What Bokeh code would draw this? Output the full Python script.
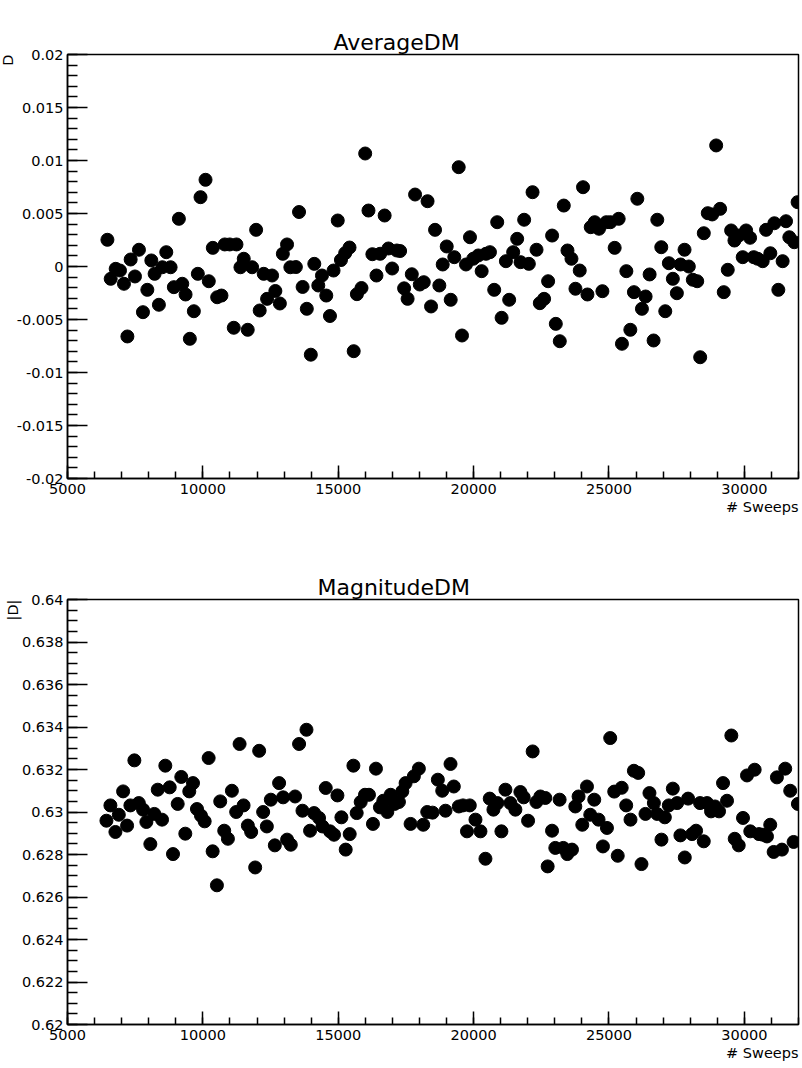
import math
from bokeh.plotting import figure
from bokeh.layouts import column
from bokeh.models import (SingleIntervalTicker, CustomJSTickFormatter, Title, Range1d,
                          LinearAxis, FixedTicker)
from bokeh.embed import file_html
from bokeh.resources import INLINE

# ---------------- data ----------------
avg_sweeps = [
    6474, 6596, 6780, 6939, 7086, 7212, 7333, 7492, 7639, 7787,
    7949, 8096, 8218, 8376, 8502, 8649, 8808, 8929, 9114, 9239,
    9361, 9519, 9667, 9814, 9913, 10098, 10219, 10367, 10529, 10687,
    10809, 10993, 11141, 11241, 11388, 11510, 11657, 11819, 11967, 12099,
    12247, 12372, 12556, 12678, 12844, 12954, 13109, 13231, 13434, 13552,
    13684, 13839, 13987, 14116, 14263, 14399, 14558, 14694, 14827, 14982,
    15100, 15258, 15417, 15571, 15689, 15859, 15995, 16117, 16261, 16412,
    16548, 16714, 16854, 16991, 17164, 17285, 17433, 17562, 17717, 17838,
    18012, 18159, 18299, 18428, 18576, 18734, 18859, 19007, 19154, 19287,
    19449, 19571, 19718, 19866, 19987, 20172, 20297, 20455, 20603, 20761,
    20872, 21034, 21193, 21314, 21462, 21609, 21734, 21867, 22040, 22177,
    22324, 22446, 22604, 22752, 22899, 23036, 23183, 23331, 23467, 23614,
    23762, 23920, 24042, 24204, 24326, 24473, 24632, 24757, 24904, 25052,
    25210, 25358, 25479, 25642, 25789, 25922, 26047, 26217, 26353, 26501,
    26648, 26784, 26932, 27079, 27212, 27359, 27507, 27643, 27791, 27949,
    28096, 28259, 28369, 28502, 28649, 28812, 28959, 29106, 29239, 29387,
    29512, 29634, 29792, 29939, 30065, 30212, 30345, 30492, 30677, 30802,
    30960, 31108, 31255, 31414, 31539, 31661, 31845, 31967,
]
avg_d = [
    0.00252, -0.00116, -0.00022, -0.00038, -0.00163, -0.0066, 0.00066, -0.00094, 0.00158, -0.00431,
    -0.0022, 0.00057, -0.00069, -0.00361, -0.00007, 0.00135, -0.00007, -0.00195, 0.0045, -0.00163,
    -0.00264, -0.00682, -0.00422, -0.00069, 0.00654, 0.00818, -0.00139, 0.00176, -0.0029, -0.00274,
    0.00208, 0.00208, -0.00578, 0.00208, -0.00007, 0.00073, -0.00597, -0.00007, 0.00346, -0.00415,
    -0.00069, -0.00305, -0.00085, -0.00231, -0.00349, 0.0012, 0.00208, -0.00007, -0.00005, 0.00514,
    -0.00193, -0.00399, -0.00832, 0.00025, -0.00179, -0.00085, -0.00274, -0.00467, -0.00038, 0.00434,
    0.00061, 0.00127, 0.00179, -0.00799, -0.00261, -0.00203, 0.01066, 0.00528, 0.00116, -0.00085,
    0.0012, 0.00481, 0.0017, -0.00019, 0.00151, 0.00146, -0.00206, -0.00305, -0.00073, 0.00679,
    -0.0017, -0.00148, 0.00616, -0.00377, 0.00346, -0.00179, 0.00019, 0.00189, -0.00314, 0.00088,
    0.00937, -0.00651, 0.00019, 0.00276, 0.00073, 0.00104, -0.00044, 0.0012, 0.00135, -0.0022,
    0.00418, -0.00484, 0.0005, -0.00314, 0.00135, 0.00261, 0.00041, 0.00441, 0.00025, 0.00701,
    0.00158, -0.00346, -0.00305, -0.00139, 0.00292, -0.00541, -0.00705, 0.00575, 0.00151, 0.00073,
    -0.0021, -0.00038, 0.00748, -0.00264, 0.00371, 0.00418, 0.00356, -0.00233, 0.00418, 0.00418,
    0.00176, 0.0045, -0.00729, -0.00044, -0.00597, -0.00242, 0.00639, -0.00399, -0.00283, -0.00075,
    -0.00698, 0.00441, 0.00182, -0.00422, 0.00031, -0.00116, -0.00252, 0.00019, 0.00158, 0.0,
    -0.00125, -0.00139, -0.00856, 0.00314, 0.00503, 0.00491, 0.01142, 0.00544, -0.00242, -0.00031,
    0.0034, 0.00245, 0.00292, 0.00088, 0.0034, 0.00271, 0.00088, 0.00073, 0.0005, 0.00346,
    0.00125, 0.00408, -0.0022, 0.0005, 0.00427, 0.00276, 0.00229, 0.00607,
]

mag_sweeps = [
    6438, 6585, 6770, 6895, 7054, 7201, 7323, 7470, 7633, 7791,
    7913, 8060, 8208, 8333, 8492, 8613, 8776, 8897, 9070, 9203,
    9351, 9498, 9635, 9782, 9930, 10066, 10213, 10361, 10519, 10641,
    10789, 10925, 11072, 11231, 11356, 11504, 11662, 11784, 11932, 12079,
    12227, 12363, 12510, 12658, 12816, 12964, 13111, 13248, 13406, 13554,
    13679, 13827, 13959, 14107, 14291, 14417, 14538, 14697, 14844, 14970,
    15117, 15276, 15423, 15560, 15681, 15829, 15987, 16135, 16282, 16393,
    16540, 16666, 16813, 16935, 17082, 17241, 17366, 17488, 17672, 17794,
    17978, 18140, 18288, 18483, 18679, 18841, 18962, 19147, 19269, 19453,
    19608, 19755, 19859, 20069, 20253, 20437, 20596, 20732, 20880, 21027,
    21175, 21359, 21543, 21728, 21850, 22012, 22181, 22318, 22466, 22650,
    22735, 22897, 23018, 23177, 23313, 23461, 23634, 23756, 23877, 24014,
    24187, 24309, 24456, 24615, 24777, 24925, 25046, 25194, 25323, 25470,
    25636, 25795, 25920, 26079, 26200, 26348, 26495, 26658, 26779, 26938,
    27063, 27210, 27358, 27517, 27638, 27800, 27922, 28069, 28217, 28364,
    28501, 28623, 28770, 28918, 29065, 29213, 29360, 29519, 29644, 29792,
    29950, 30098, 30219, 30381, 30540, 30687, 30835, 30956, 31082, 31203,
    31388, 31510, 31694, 31819, 31978,
]
mag_d = [
    0.62959, 0.63031, 0.62906, 0.62987, 0.63097, 0.62936, 0.63031, 0.63243, 0.63042, 0.63011,
    0.62953, 0.62849, 0.62991, 0.63105, 0.62964, 0.63218, 0.63116, 0.62802, 0.63038, 0.63165,
    0.62898, 0.63097, 0.63136, 0.63014, 0.62983, 0.62956, 0.63254, 0.62815, 0.62655, 0.6305,
    0.62912, 0.62874, 0.631, 0.63, 0.6332, 0.63031, 0.62936, 0.62906, 0.62739, 0.63288,
    0.63, 0.62932, 0.63058, 0.62843, 0.63136, 0.63069, 0.6287, 0.62846, 0.63073, 0.6332,
    0.63006, 0.63387, 0.62912, 0.62995, 0.62972, 0.62932, 0.63113, 0.62909, 0.62893, 0.63078,
    0.62975, 0.62823, 0.62896, 0.63218, 0.62995, 0.63047, 0.63081, 0.63081, 0.62944, 0.63204,
    0.63022, 0.63053, 0.63, 0.63081, 0.63038, 0.63047, 0.63097, 0.63136, 0.62944, 0.63168,
    0.63204, 0.6294, 0.63, 0.62997, 0.63152, 0.631, 0.63006, 0.63226, 0.6312, 0.63026,
    0.63031, 0.62909, 0.63031, 0.62964, 0.62909, 0.6278, 0.63063, 0.63011, 0.63042, 0.62909,
    0.63105, 0.63042, 0.63011, 0.63094, 0.63069, 0.62959, 0.63285, 0.63047, 0.63073, 0.63066,
    0.62744, 0.62912, 0.62831, 0.63058, 0.62831, 0.62802, 0.62823, 0.63026, 0.63073, 0.6294,
    0.6312, 0.62987, 0.63058, 0.62964, 0.62838, 0.62925, 0.63348, 0.63096, 0.62794, 0.63114,
    0.63031, 0.62964, 0.63194, 0.63184, 0.62755, 0.62991, 0.63089, 0.63042, 0.62991, 0.6287,
    0.62975, 0.63031, 0.6311, 0.63042, 0.6289, 0.62786, 0.63063, 0.62896, 0.62912, 0.63042,
    0.62862, 0.63042, 0.63003, 0.63026, 0.63003, 0.63136, 0.63053, 0.6336, 0.62874, 0.62843,
    0.62972, 0.63172, 0.62909, 0.63199, 0.62896, 0.62893, 0.62885, 0.6294, 0.62812, 0.63163,
    0.62823, 0.63204, 0.631, 0.62859, 0.63038,
]

FONT = "DejaVu Sans"


def make_panel(xs, ys, y0, y1, y_int, y_minor, title, ylabel,
               left, right, top, bottom, height, title_offset, spacer):
    p = figure(width=802, height=height,
               x_range=Range1d(5000, 32000), y_range=Range1d(y0, y1),
               output_backend="svg", toolbar_location=None,
               min_border_left=left, min_border_right=right,
               min_border_top=top, min_border_bottom=bottom)
    p.grid.visible = False
    p.background_fill_color = "white"
    p.border_fill_color = "white"
    p.outline_line_color = "black"
    p.outline_line_width = 1.5
    p.outline_line_alpha = 1.0

    p.scatter(xs, ys, size=13, fill_color="black", line_color="black")

    fmt = CustomJSTickFormatter(code="return String(parseFloat(tick.toFixed(6)));")

    xa = p.xaxis[0]
    xa.ticker = SingleIntervalTicker(interval=5000, num_minor_ticks=5)
    xa.formatter = fmt
    xa.major_tick_in = 13
    xa.major_tick_out = 0
    xa.minor_tick_in = 7
    xa.minor_tick_out = 0
    xa.major_label_standoff = 5

    ya = p.yaxis[0]
    ya.ticker = SingleIntervalTicker(interval=y_int, num_minor_ticks=y_minor)
    ya.formatter = fmt
    ya.major_tick_in = 20
    ya.major_tick_out = 0
    ya.minor_tick_in = 10
    ya.minor_tick_out = 0
    ya.major_label_standoff = 4

    for ax in (xa, ya):
        ax.axis_line_color = "black"
        ax.axis_line_width = 1.5
        ax.major_tick_line_color = "black"
        ax.major_tick_line_width = 1.5
        ax.minor_tick_line_color = "black"
        ax.minor_tick_line_width = 1.5
        ax.major_label_text_font = FONT
        ax.major_label_text_font_size = "14.5px"
        ax.major_label_text_color = "black"

    p.add_layout(Title(text=title, align="left",
                       text_font=FONT,
                       text_font_size="22px", text_font_style="normal",
                       text_color="black", standoff=0,
                       offset=title_offset), "above")
    # invisible, text-free spacer between the frame and the title
    gap = LinearAxis(ticker=FixedTicker(ticks=[]), axis_label=None,
                     major_tick_out=spacer, major_tick_in=0,
                     minor_tick_out=0, minor_tick_in=0,
                     major_label_standoff=0,
                     axis_line_color=None, major_tick_line_color=None,
                     minor_tick_line_color=None)
    p.add_layout(gap, "above")
    p.add_layout(Title(text="# Sweeps", align="right", text_font=FONT,
                       text_font_size="14.5px", text_font_style="normal",
                       text_color="black", standoff=0), "below")
    p.add_layout(Title(text=ylabel, align="right", text_font=FONT,
                       text_font_size="14.5px", text_font_style="normal",
                       text_color="black", standoff=-5), "left")
    return p


p1 = make_panel(avg_sweeps, avg_d, -0.02, 0.02, 0.005, 5, "AverageDM", "D",
                67, 3, 54, 56, 534, 266, 21)
p2 = make_panel(mag_sweeps, mag_d, 0.62, 0.64, 0.002, 4, "MagnitudeDM", "|D|",
                65, 4, 65, 44, 534, 250, 23)

layout = column(p1, p2, spacing=0)
open("out.html", "w").write(file_html(layout, INLINE, title="DM"))
